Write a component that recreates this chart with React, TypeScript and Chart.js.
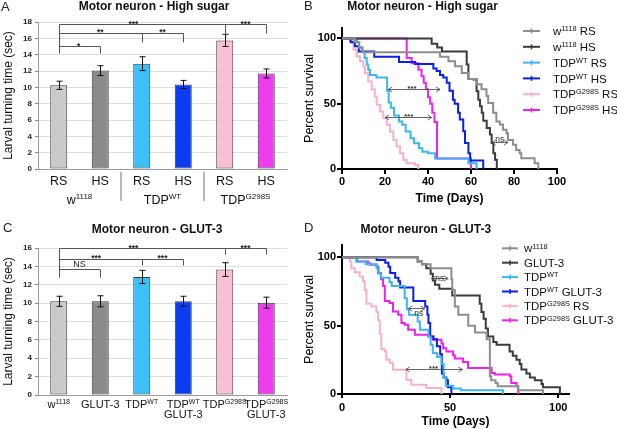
import React, { useEffect, useRef } from 'react';
import { Chart, registerables } from 'chart.js';

Chart.register(...registerables);

const FONT = '"Liberation Sans", Arial, Helvetica, sans-serif';
Chart.defaults.font.family = FONT;
Chart.defaults.color = '#111';

type Part = [string, boolean];
type Pair = [number, number];

// ---------------- Panel A : larval turning time, high sugar ----------------
const aTickLabels = ['RS', 'HS', 'RS', 'HS', 'RS', 'HS'];
const aMeans = [10.25, 12.05, 12.9, 10.35, 15.75, 11.7];
const aErrors = [0.5, 0.6, 0.85, 0.5, 0.75, 0.55];
const aYTicksStep = 2;
const aGroupLabels: Part[][] = [
  [['w', false], ['1118', true]],
  [['TDP', false], ['WT', true]],
  [['TDP', false], ['G298S', true]],
];

// ---------------- Panel C : larval turning time, GLUT-3 ----------------
const cCategories = ['w1118', 'GLUT-3', 'TDPWT', 'TDPWT GLUT-3', 'TDPG298S', 'TDPG298S GLUT-3'];
const cMeans = [10.2, 10.2, 12.85, 10.2, 13.65, 10.05];
const cErrors = [0.55, 0.6, 0.72, 0.55, 0.75, 0.6];
const cLabelLines: Part[][][] = [
  [[['w', false], ['1118', true]]],
  [[['GLUT-3', false]]],
  [[['TDP', false], ['WT', true]]],
  [[['TDP', false], ['WT', true]], [['GLUT-3', false]]],
  [[['TDP', false], ['G298S', true]]],
  [[['TDP', false], ['G298S', true]], [['GLUT-3', false]]],
];

// ---------------- Panel B : survival, high sugar ([day, % survival]) ----------------
const bW1118RS: Pair[] = [[0, 100], [6, 97], [8, 93], [9.5, 89.5], [45.6, 86], [49.5, 82.6], [52.6, 78.7], [55.7, 73.6], [58.8, 69], [62.6, 65], [64.9, 61], [67.2, 56], [68, 50.5], [70.3, 43], [71.8, 36.4], [73.4, 34], [74.9, 30], [76.5, 27.4], [77.2, 22.3], [79.5, 18.5], [81, 14.6], [82.6, 12], [83.4, 8.2], [89.6, 4.4], [91.3, 0]];
const bW1118HS: Pair[] = [[0, 100], [41.7, 96], [44.3, 93], [46.5, 90], [58, 80], [58.8, 69], [61.1, 68.5], [62.6, 59.5], [63.4, 53], [64.2, 48], [65, 43], [65.7, 37], [67.3, 31.5], [68.8, 26.4], [69.6, 20], [70.4, 12], [71.2, 7], [72, 0]];
const bTdpWtRS: Pair[] = [[0, 100], [7, 97], [8, 93], [9.5, 90], [10.5, 85], [11.5, 80], [12.2, 76], [13, 72], [16, 70], [21, 60], [21.7, 51], [22.7, 47], [24.2, 41], [26.5, 36.4], [28, 33.8], [29.6, 28.7], [31.9, 23.6], [33.5, 19.7], [35.8, 15.9], [37.4, 13.3], [40, 12], [43.3, 8], [58.8, 4.5], [62.6, 0]];
const bTdpWtHS: Pair[] = [[0, 100], [4, 97], [6, 94], [7.8, 90], [15, 86], [26.5, 82], [34, 80.5], [42.5, 77], [44, 75], [45.6, 72], [47.1, 70], [48.7, 66], [50, 60], [51.6, 53], [52.4, 50], [54, 43], [54.8, 38], [56.4, 29], [57.2, 20], [58.8, 12], [59.6, 6.6], [65.7, 0]];
const bG298SRS: Pair[] = [[0, 100], [3.7, 98], [5.3, 91.5], [6.8, 86.4], [8.4, 82.6], [9.9, 78.7], [10.7, 73.6], [12.2, 67], [13.8, 60.8], [15.3, 55.6], [16.1, 49.2], [17.7, 44], [19.2, 39], [20.8, 33.8], [22.3, 28.7], [23.9, 22.3], [25.4, 17.2], [27, 12], [28.5, 6.9], [30.1, 4.4], [34, 3], [35.5, 0]];
const bG298SHS: Pair[] = [[0, 100], [30.1, 85], [32.4, 81], [35.5, 76], [37, 71], [38, 66], [39, 61], [40, 55], [41, 50], [42, 43], [43, 36], [44.2, 8], [60, 0]];
const bXTicks = [0, 20, 40, 60, 80, 100];
const bYTicks = [0, 50, 100];
const bLegend: Part[][] = [
  [['w', false], ['1118', true], [' RS', false]],
  [['w', false], ['1118', true], [' HS', false]],
  [['TDP', false], ['WT', true], [' RS', false]],
  [['TDP', false], ['WT', true], [' HS', false]],
  [['TDP', false], ['G298S', true], [' RS', false]],
  [['TDP', false], ['G298S', true], [' HS', false]],
];

// ---------------- Panel D : survival, GLUT-3 ----------------
const dW1118: Pair[] = [[0, 100], [35, 97], [37, 95], [41, 92], [50.6, 84], [51, 76], [52.2, 64], [53.8, 58], [58.4, 50], [61.5, 45], [66.9, 40], [68.4, 13], [69, 10], [71, 8], [72, 5.6], [81.5, 2.7], [93, 0]];
const dGlut3: Pair[] = [[0, 100], [35, 97], [37, 95], [39, 92], [41, 88], [42, 83], [43, 80], [45, 77], [51, 72], [63.7, 66], [64.5, 60], [65.5, 55], [66.5, 48], [67.5, 42], [70, 38], [71.5, 36], [77.5, 31], [79, 28], [80.7, 25], [82.2, 22], [83, 18], [85.3, 15], [86.9, 12], [89.2, 10], [92.3, 7.3], [93, 5], [100.8, 0]];
const dTdpWt: Pair[] = [[0, 100], [6.6, 97], [11, 95], [16, 92], [17, 88], [18, 85], [22, 82], [23, 79], [29, 70], [30, 62], [31, 58], [35, 53], [36, 47], [40, 42], [41, 36], [42, 30], [44, 27], [46, 22], [47, 12], [48, 6], [51.4, 4], [55, 2.7], [74.5, 0]];
const dTdpWtGlut3: Pair[] = [[0, 100], [16, 98], [20, 96], [21.5, 93], [22.3, 88.5], [24.6, 85], [26.1, 82.5], [26.9, 78], [33, 68], [38.5, 64], [39.5, 58], [40, 52], [40.8, 42], [42.3, 40], [43.9, 35], [45.4, 29], [46.2, 15], [47, 12], [48.3, 10], [49, 5], [50.6, 0]];
const dG298SRS: Pair[] = [[0, 100], [3.6, 97], [4.3, 92], [5.9, 89], [8.2, 86], [9.7, 82.5], [10.5, 76], [11.3, 66], [13.6, 64], [15.9, 60], [16.7, 54], [17.5, 44], [18.2, 33], [19.8, 31], [20.5, 25], [22.1, 22.7], [23.6, 17.7], [29.8, 10.5], [32, 6.8], [39, 4.4], [46, 0]];
const dG298SGlut3: Pair[] = [[0, 100], [7, 97], [12, 95.7], [13, 94.5], [16, 93.3], [16.7, 88.5], [18, 84], [19, 79], [19.8, 68], [22, 66.5], [23.6, 60.4], [26, 58], [27.5, 52], [29, 50.6], [30.6, 47], [33.7, 43.3], [40, 42], [42.2, 39.6], [46, 37], [46.8, 33.5], [48.3, 31], [51.4, 28.3], [52.2, 26], [56, 23.4], [58.3, 19], [69.2, 15.4], [70.7, 14.2], [77.6, 13], [78.3, 8], [80.7, 5.6], [81.5, 0]];
const dXTicks = [0, 50, 100];
const dYTicks = [0, 50, 100];
const dLegend: Part[][] = [
  [['w', false], ['1118', true]],
  [['GLUT-3', false]],
  [['TDP', false], ['WT', true]],
  [['TDP', false], ['WT', true], [' GLUT-3', false]],
  [['TDP', false], ['G298S', true], [' RS', false]],
  [['TDP', false], ['G298S', true], [' GLUT-3', false]],
];

// ---------------- styles ----------------
const barFill = ['#cacaca', '#8b8b8b', '#3cc0f8', '#0a3cf0', '#f9bfd8', '#f03cf0'];
const lineColors = ['#8d8d8d', '#3b3b3b', '#3ab6f2', '#0b1fe6', '#f7b1ce', '#ee22ea'];

// significance annotations (category index / value units)
type Seg = [number, number, number, number];
const aBracketLines: Seg[] = [[0, 17.75, 5, 17.75], [4, 17.75, 4, 16.7], [5, 17.75, 5, 16.7], [0, 17.75, 0, 14.2], [0, 16.7, 3, 16.7], [2, 16.7, 2, 15.6], [3, 16.7, 3, 15.6], [0, 15.06, 1, 15.06], [1, 15.06, 1, 14.2]];
const aBracketMarks: [string, number, number][] = [['***', 1.8, 17.75], ['***', 4.5, 17.75], ['**', 1.0, 16.7], ['**', 2.5, 16.7], ['*', 0.48, 15.06]];
const cBracketLines: Seg[] = [[0, 16, 5, 16], [4, 16, 4, 15.3], [5, 16, 5, 15.3], [0, 16, 0, 12.85], [0, 14.85, 3, 14.85], [2, 14.85, 2, 14.1], [3, 14.85, 3, 14.1], [0, 13.75, 1, 13.75], [1, 13.75, 1, 12.85]];
const cBracketMarks: [string, number, number][] = [['***', 1.8, 16], ['***', 4.5, 16], ['***', 0.9, 14.85], ['***', 2.5, 14.85], ['NS', 0.5, 13.75]];

const bArrows = [
  { from: 21.5, to: 45.6, at: 61.3, text: '***', textAt: 32.5, baseDy: 1.5 },
  { from: 20, to: 41.7, at: 39.5, text: '***', textAt: 31, baseDy: 1.5 },
  { from: 69.6, to: 77.2, at: 21, text: 'ns', textAt: 73.4, baseDy: -1 },
];
const dArrows = [
  { from: 41.4, to: 49.1, at: 85, text: 'ns', textAt: 45.2, baseDy: 2 },
  { from: 30.7, to: 38.3, at: 63, text: 'ns', textAt: 35.5, baseDy: 7.5 },
  { from: 29.5, to: 55.7, at: 18.5, text: '***', textAt: 42.3, baseDy: 1.5 },
];

// ---------------- drawing helpers ----------------
function setFont(ctx: CanvasRenderingContext2D, size: number, weight = 'normal') {
  ctx.font = `${weight} ${size}px ${FONT}`;
}

function drawRich(ctx: CanvasRenderingContext2D, parts: Part[], x: number, yCenter: number, size: number, align: 'left' | 'center', weight = 'normal', color = '#111') {
  const supSize = size * 0.64;
  let total = 0;
  const widths = parts.map(([t, sup]) => {
    setFont(ctx, sup ? supSize : size, weight);
    const w = ctx.measureText(t).width;
    total += w;
    return w;
  });
  let cx = align === 'center' ? x - total / 2 : x;
  const base = yCenter + size * 0.36;
  ctx.fillStyle = color;
  ctx.textAlign = 'left';
  ctx.textBaseline = 'alphabetic';
  parts.forEach(([t, sup], i) => {
    setFont(ctx, sup ? supSize : size, weight);
    ctx.fillText(t, cx, sup ? base - size * 0.34 : base);
    cx += widths[i];
  });
}

function drawTitle(ctx: CanvasRenderingContext2D, text: string, x: number, y: number) {
  setFont(ctx, 12, 'bold');
  ctx.fillStyle = '#111';
  ctx.textAlign = 'center';
  ctx.textBaseline = 'middle';
  ctx.fillText(text, x, y);
}

function drawLetter(ctx: CanvasRenderingContext2D, text: string, x: number, y: number) {
  setFont(ctx, 13);
  ctx.fillStyle = '#222';
  ctx.textAlign = 'left';
  ctx.textBaseline = 'middle';
  ctx.fillText(text, x, y);
}

function drawBrackets(chart: any, lines: Seg[], marks: [string, number, number][]) {
  const { ctx } = chart;
  const xs = chart.scales.x;
  const ys = chart.scales.y;
  ctx.save();
  ctx.strokeStyle = '#555';
  ctx.lineWidth = 1;
  ctx.beginPath();
  lines.forEach(([i1, v1, i2, v2]) => {
    ctx.moveTo(Math.round(xs.getPixelForValue(i1)) + 0.5, Math.round(ys.getPixelForValue(v1)) + 0.5);
    ctx.lineTo(Math.round(xs.getPixelForValue(i2)) + 0.5, Math.round(ys.getPixelForValue(v2)) + 0.5);
  });
  ctx.stroke();
  ctx.fillStyle = '#222';
  ctx.textAlign = 'center';
  ctx.textBaseline = 'alphabetic';
  marks.forEach(([t, at, v]) => {
    const isStar = t.startsWith('*');
    setFont(ctx, isStar ? 8.5 : 9, isStar ? 'bold' : 'normal');
    ctx.fillText(t, xs.getPixelForValue(at), ys.getPixelForValue(v) + (isStar ? 2.5 : -2));
  });
  ctx.restore();
}

function errorBarPlugin(errors: number[]) {
  return {
    id: 'errorBars',
    afterDatasetsDraw(chart: any) {
      const { ctx } = chart;
      const meta = chart.getDatasetMeta(0);
      const ys = chart.scales.y;
      const vals = chart.data.datasets[0].data as number[];
      ctx.save();
      ctx.strokeStyle = '#111';
      ctx.lineWidth = 1;
      meta.data.forEach((bar: any, i: number) => {
        const x = Math.round(bar.x) + 0.5;
        const top = ys.getPixelForValue(vals[i] + errors[i]);
        const bot = ys.getPixelForValue(vals[i] - errors[i]);
        ctx.beginPath();
        ctx.moveTo(x, top);
        ctx.lineTo(x, bot);
        ctx.moveTo(x - 3, top);
        ctx.lineTo(x + 3, top);
        ctx.moveTo(x - 3, bot);
        ctx.lineTo(x + 3, bot);
        ctx.stroke();
      });
      ctx.restore();
    },
  };
}

function barConfig(o: any): any {
  return {
    type: 'bar',
    data: {
      labels: o.labels,
      datasets: [{
        data: o.means,
        backgroundColor: barFill,
        borderColor: '#3a3a3a',
        borderWidth: 1,
        borderSkipped: false,
        barPercentage: 0.41,
        categoryPercentage: 1,
      }],
    },
    options: {
      animation: false,
      responsive: false,
      maintainAspectRatio: false,
      layout: { padding: { left: 0, right: 13, top: o.top, bottom: 0 } },
      plugins: { legend: { display: false }, tooltip: { enabled: false }, title: { display: false } },
      scales: {
        x: {
          grid: { display: false, drawTicks: false },
          border: { display: true, color: '#9a9a9a', width: 1 },
          ticks: { display: o.showTicks, font: { size: 12.5 }, color: '#111', padding: 5 },
          afterFit: (s: any) => { s.height = o.axisH; },
        },
        y: {
          min: 0,
          max: o.yMax,
          ticks: { stepSize: aYTicksStep, font: { size: 8, weight: 'bold' }, color: '#222', padding: 3 },
          grid: { color: '#dedede', tickColor: '#888', tickLength: 3 },
          border: { display: true, color: '#9a9a9a', width: 1 },
          title: { display: true, text: 'Larval turning time (sec)', font: { size: 12 }, color: '#111', padding: { top: 1, bottom: 0 } },
          afterFit: (s: any) => { s.width = 38; },
        },
      },
    },
    plugins: [errorBarPlugin(o.errors), { id: 'extras', afterDraw: o.extra }],
  };
}

function survivalConfig(o: any): any {
  return {
    type: 'line',
    data: {
      datasets: o.series.map((s: Pair[], i: number) => ({
        data: s.map(([x, y]) => ({ x, y })),
        borderColor: lineColors[i],
        backgroundColor: lineColors[i],
        borderWidth: 2,
        pointRadius: 0,
        stepped: true,
        fill: false,
        tension: 0,
      })),
    },
    options: {
      animation: false,
      responsive: false,
      maintainAspectRatio: false,
      layout: { padding: { left: 0, right: o.padRight, top: o.top, bottom: 0 } },
      plugins: { legend: { display: false }, tooltip: { enabled: false }, title: { display: false } },
      scales: {
        x: {
          type: 'linear',
          min: 0,
          max: o.xMax,
          afterBuildTicks: (s: any) => { s.ticks = o.xTicks.map((v: number) => ({ value: v })); },
          ticks: { font: { size: 11, weight: 'bold' }, color: '#000', padding: o.xTickPad },
          grid: { drawOnChartArea: false, color: '#000', lineWidth: 2, tickLength: o.tickLen },
          border: { display: true, color: '#000', width: 2 },
          title: { display: true, text: 'Time (Days)', font: { size: 12, weight: 'bold' }, color: '#000', padding: { top: 0, bottom: o.xTitlePad } },
          afterFit: (s: any) => { s.height = o.axisH; },
        },
        y: {
          min: 0,
          max: o.yMax,
          afterBuildTicks: (s: any) => { s.ticks = o.yTicks.map((v: number) => ({ value: v })); },
          ticks: { font: { size: 11, weight: 'bold' }, color: '#000', padding: 1 },
          grid: { drawOnChartArea: false, color: '#000', lineWidth: 2, tickLength: 5 },
          border: { display: true, color: '#000', width: 2 },
          title: { display: true, text: 'Percent survival', font: { size: 12.5 }, color: '#000', padding: { top: 2, bottom: 0 } },
          afterFit: (s: any) => { s.width = 42; },
        },
      },
    },
    plugins: [{ id: 'extras', afterDraw: o.extra }],
  };
}

function drawSurvivalExtras(chart: any, o: any) {
  const { ctx } = chart;
  const xs = chart.scales.x;
  const ys = chart.scales.y;
  ctx.save();
  // comparison arrows
  o.arrows.forEach((a: any) => {
    const x1 = xs.getPixelForValue(a.from);
    const x2 = xs.getPixelForValue(a.to);
    const y = Math.round(ys.getPixelForValue(a.at)) + 0.5;
    ctx.strokeStyle = '#555';
    ctx.lineWidth = 0.9;
    ctx.beginPath();
    ctx.moveTo(x1, y); ctx.lineTo(x2, y);
    ctx.moveTo(x1 + 4, y - 2.5); ctx.lineTo(x1, y); ctx.lineTo(x1 + 4, y + 2.5);
    ctx.moveTo(x2 - 4, y - 2.5); ctx.lineTo(x2, y); ctx.lineTo(x2 - 4, y + 2.5);
    ctx.stroke();
    const star = a.text.startsWith('*');
    setFont(ctx, star ? 8 : 8.5, star ? 'bold' : 'normal');
    ctx.fillStyle = '#333';
    ctx.textAlign = 'center';
    ctx.textBaseline = 'alphabetic';
    ctx.fillText(a.text, xs.getPixelForValue(a.textAt), y + a.baseDy);
  });
  // legend
  o.legend.forEach((parts: Part[], i: number) => {
    const y = o.legendTop + i * o.legendStep;
    ctx.strokeStyle = lineColors[i];
    ctx.lineWidth = 2;
    ctx.beginPath();
    ctx.moveTo(o.lx1, y); ctx.lineTo(o.lx2, y);
    ctx.stroke();
    ctx.lineWidth = 1.5;
    const mid = (o.lx1 + o.lx2) / 2;
    ctx.beginPath();
    ctx.moveTo(mid, y - 2.5); ctx.lineTo(mid, y + 2.5);
    ctx.stroke();
    drawRich(ctx, parts, o.tx, y, 11.5, 'left', 'normal', '#111');
  });
  drawTitle(ctx, o.title, o.titleX, o.titleY);
  drawLetter(ctx, o.letter, o.letterX, o.letterY);
  ctx.restore();
}

export default function App() {
  const aRef = useRef<HTMLCanvasElement>(null);
  const bRef = useRef<HTMLCanvasElement>(null);
  const cRef = useRef<HTMLCanvasElement>(null);
  const dRef = useRef<HTMLCanvasElement>(null);

  useEffect(() => {
    const charts: Chart[] = [];

    charts.push(new Chart(aRef.current!, barConfig({
      labels: aTickLabels, means: aMeans, errors: aErrors, yMax: 18, top: 22, axisH: 45, showTicks: true,
      extra: (chart: any) => {
        const { ctx } = chart;
        const xs = chart.scales.x;
        drawBrackets(chart, aBracketLines, aBracketMarks);
        ctx.save();
        aGroupLabels.forEach((parts, g) => {
          drawRich(ctx, parts, xs.getPixelForValue(g * 2 + 0.5), 199, 12.5, 'center', 'normal', '#111');
        });
        ctx.strokeStyle = '#a0a0a0';
        ctx.lineWidth = 1.5;
        [1.5, 3.5].forEach((v) => {
          const x = Math.round(xs.getPixelForValue(v));
          ctx.beginPath(); ctx.moveTo(x, 172); ctx.lineTo(x, 201); ctx.stroke();
        });
        drawTitle(ctx, 'Motor neuron - High sugar', 154, 7);
        drawLetter(ctx, 'A', 1, 7);
        ctx.restore();
      },
    })));

    charts.push(new Chart(cRef.current!, barConfig({
      labels: cCategories, means: cMeans, errors: cErrors, yMax: 16, top: 34, axisH: 34, showTicks: false,
      extra: (chart: any) => {
        const { ctx } = chart;
        const xs = chart.scales.x;
        drawBrackets(chart, cBracketLines, cBracketMarks);
        ctx.save();
        cLabelLines.forEach((lines, i) => {
          lines.forEach((parts, li) => {
            drawRich(ctx, parts, xs.getPixelForValue(i), 190 + li * 10.5, 11, 'center', 'normal', '#111');
          });
        });
        drawTitle(ctx, 'Motor neuron - GLUT-3', 157, 16);
        drawLetter(ctx, 'C', 3, 14);
        ctx.restore();
      },
    })));

    const bOpts = {
      series: [bW1118RS, bW1118HS, bTdpWtRS, bTdpWtHS, bG298SRS, bG298SHS],
      xMax: 100, yMax: 108, xTicks: bXTicks, yTicks: bYTicks, top: 28, padRight: 60, axisH: 45,
      tickLen: 5, xTickPad: 1.5, xTitlePad: 8,
    };
    charts.push(new Chart(bRef.current!, survivalConfig({
      ...bOpts,
      extra: (chart: any) => drawSurvivalExtras(chart, {
        arrows: bArrows, legend: bLegend, legendTop: 31, legendStep: 15.8, lx1: 223, lx2: 240, tx: 253,
        title: 'Motor neuron - High sugar', titleX: 122.5, titleY: 7, letter: 'B', letterX: 4, letterY: 6,
      }),
    })));

    const dOpts = {
      series: [dW1118, dGlut3, dTdpWt, dTdpWtGlut3, dG298SRS, dG298SGlut3],
      xMax: 105, yMax: 109, xTicks: dXTicks, yTicks: dYTicks, top: 31, padRight: 48, axisH: 35,
      tickLen: 4, xTickPad: 3, xTitlePad: 0,
    };
    charts.push(new Chart(dRef.current!, survivalConfig({
      ...dOpts,
      extra: (chart: any) => drawSurvivalExtras(chart, {
        arrows: dArrows, legend: dLegend, legendTop: 34.3, legendStep: 14.4, lx1: 202, lx2: 218, tx: 224,
        title: 'Motor neuron - GLUT-3', titleX: 125.8, titleY: 16, letter: 'D', letterX: 4, letterY: 14,
      }),
    })));

    return () => charts.forEach((c) => c.destroy());
  }, []);

  const pos = (left: number, top: number, width: number, height: number): React.CSSProperties => ({
    position: 'absolute', left, top, width, height, display: 'block',
  });

  return (
    <div style={{ position: 'absolute', left: 0, top: 0, width: 617, height: 429, background: '#fff', overflow: 'hidden' }}>
      <canvas ref={aRef} width={300} height={214} style={pos(0, 0, 300, 214)} />
      <canvas ref={bRef} width={317} height={214} style={pos(300, 0, 317, 214)} />
      <canvas ref={cRef} width={300} height={215} style={pos(0, 214, 300, 215)} />
      <canvas ref={dRef} width={317} height={215} style={pos(300, 214, 317, 215)} />
    </div>
  );
}
